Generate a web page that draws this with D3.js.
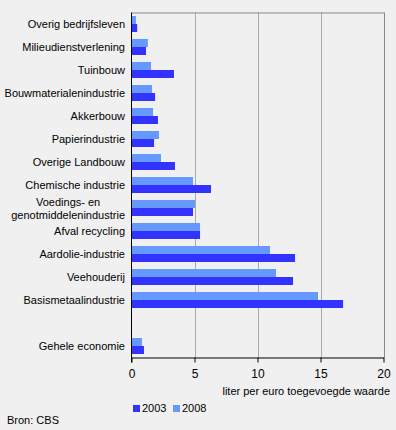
<!DOCTYPE html>
<html><head><meta charset="utf-8">
<script src="https://cdn.jsdelivr.net/npm/d3@7"></script>
<style>body{margin:0;background:#f0f0f0;}svg{display:block;font-family:"Liberation Sans",Arial,sans-serif;}</style>
</head><body><div id="chart"></div>
<script>
const categories = ["Overig bedrijfsleven","Milieudienstverlening","Tuinbouw","Bouwmaterialenindustrie","Akkerbouw","Papierindustrie","Overige Landbouw","Chemische industrie","Voedings- en|genotmiddelenindustrie","Afval recycling","Aardolie-industrie","Veehouderij","Basismetaalindustrie","","Gehele economie"];
const values2003 = [0.45,1.15,3.37,1.87,2.1,1.79,3.45,6.31,4.88,5.44,12.98,12.82,16.79,null,0.99];
const values2008 = [0.35,1.3,1.55,1.63,1.71,2.18,2.34,4.88,5.04,5.44,10.99,11.47,14.8,null,0.83];
const xTicks = [0,5,10,15,20];
const seriesNames = ["2003","2008"];
const colors = {"2003":"#3333ff","2008":"#6699ff"};

const W=396,H=430;
const m={left:131.5,right:383.5,top:12.5,bottom:357.5};
const svg=d3.select("#chart").append("svg").attr("width",W).attr("height",H);
svg.append("rect").attr("width",W).attr("height",H).attr("fill","#f0f0f0");

const x=d3.scaleLinear().domain([0,20]).range([m.left,m.right]);
const y=d3.scaleBand().domain(d3.range(categories.length)).range([m.top,m.bottom]).paddingInner(0).paddingOuter(0);
const bw=y.bandwidth();
const barH=bw*8/23;
const off=bw*3.5/23;

// gridlines
svg.append("g").selectAll("line").data(xTicks.filter(t=>t>0&&t<20)).join("line")
  .attr("x1",d=>Math.round(x(d))+0.5).attr("x2",d=>Math.round(x(d))+0.5)
  .attr("y1",m.top).attr("y2",m.bottom).attr("stroke","#aaaaaa").attr("stroke-width",1);
// top and right frame
svg.append("line").attr("x1",m.left).attr("x2",Math.round(m.right)+0.5).attr("y1",Math.round(m.top)).attr("y2",Math.round(m.top)).attr("stroke","#888").attr("stroke-width",1);
svg.append("line").attr("x1",Math.round(m.right)+0.5).attr("x2",Math.round(m.right)+0.5).attr("y1",m.top).attr("y2",m.bottom).attr("stroke","#888").attr("stroke-width",1);

const idx=d3.range(categories.length).filter(i=>values2003[i]!=null);
svg.append("g").selectAll("rect").data(idx).join("rect")
  .attr("x",x(0)).attr("y",i=>y(i)+off).attr("height",barH)
  .attr("width",i=>x(values2008[i])-x(0)).attr("fill",colors["2008"]);
svg.append("g").selectAll("rect").data(idx).join("rect")
  .attr("x",x(0)).attr("y",i=>y(i)+off+barH).attr("height",barH)
  .attr("width",i=>x(values2003[i])-x(0)).attr("fill",colors["2003"]);

// x axis
const xa=svg.append("g").attr("transform",`translate(0,${Math.round(m.bottom)-0.5})`)
  .call(d3.axisBottom(x).tickValues(xTicks).tickSize(5).tickSizeOuter(0));
xa.select(".domain").attr("stroke","#000");
xa.selectAll(".tick line").attr("stroke","#000");
xa.selectAll(".tick text").attr("font-size",12).attr("fill","#000").attr("font-family","Liberation Sans, Arial, sans-serif").attr("dy","1.0em");
// y axis line
svg.append("line").attr("x1",Math.round(m.left)-0.5).attr("x2",Math.round(m.left)-0.5).attr("y1",m.top).attr("y2",m.bottom+5).attr("stroke","#000");

// category labels (multi-line blocks: right-aligned block, lines centred in block)
const lab=svg.append("g").attr("font-size",11).attr("fill","#000");
categories.forEach((c,i)=>{
  if(!c) return;
  const lines=c.split("|");
  const cy=y(i)+bw/2;
  if(lines.length===1){
    lab.append("text").attr("x",125).attr("y",cy+4).attr("text-anchor","end").text(c);
  } else {
    const texts=lines.map((ln,j)=>lab.append("text").attr("y",cy+4+(j-(lines.length-1)/2)*13).text(ln));
    const widths=texts.map(t=>t.node().getComputedTextLength());
    const maxW=d3.max(widths);
    const centre=125-maxW/2;
    texts.forEach(t=>t.attr("x",centre).attr("text-anchor","middle"));
  }
});

svg.append("text").attr("x",390).attr("y",395).attr("text-anchor","end").attr("font-size",11).text("liter per euro toegevoegde waarde");

// legend
const lg=svg.append("g").attr("font-size",11);
seriesNames.forEach((s,i)=>{
  const lx=133+i*40;
  lg.append("rect").attr("x",lx).attr("y",405).attr("width",7).attr("height",7).attr("fill",colors[s]);
  lg.append("text").attr("x",lx+9).attr("y",412).text(s);
});
svg.append("text").attr("x",7).attr("y",424).attr("font-size",11).text("Bron: CBS");
</script></body></html>
